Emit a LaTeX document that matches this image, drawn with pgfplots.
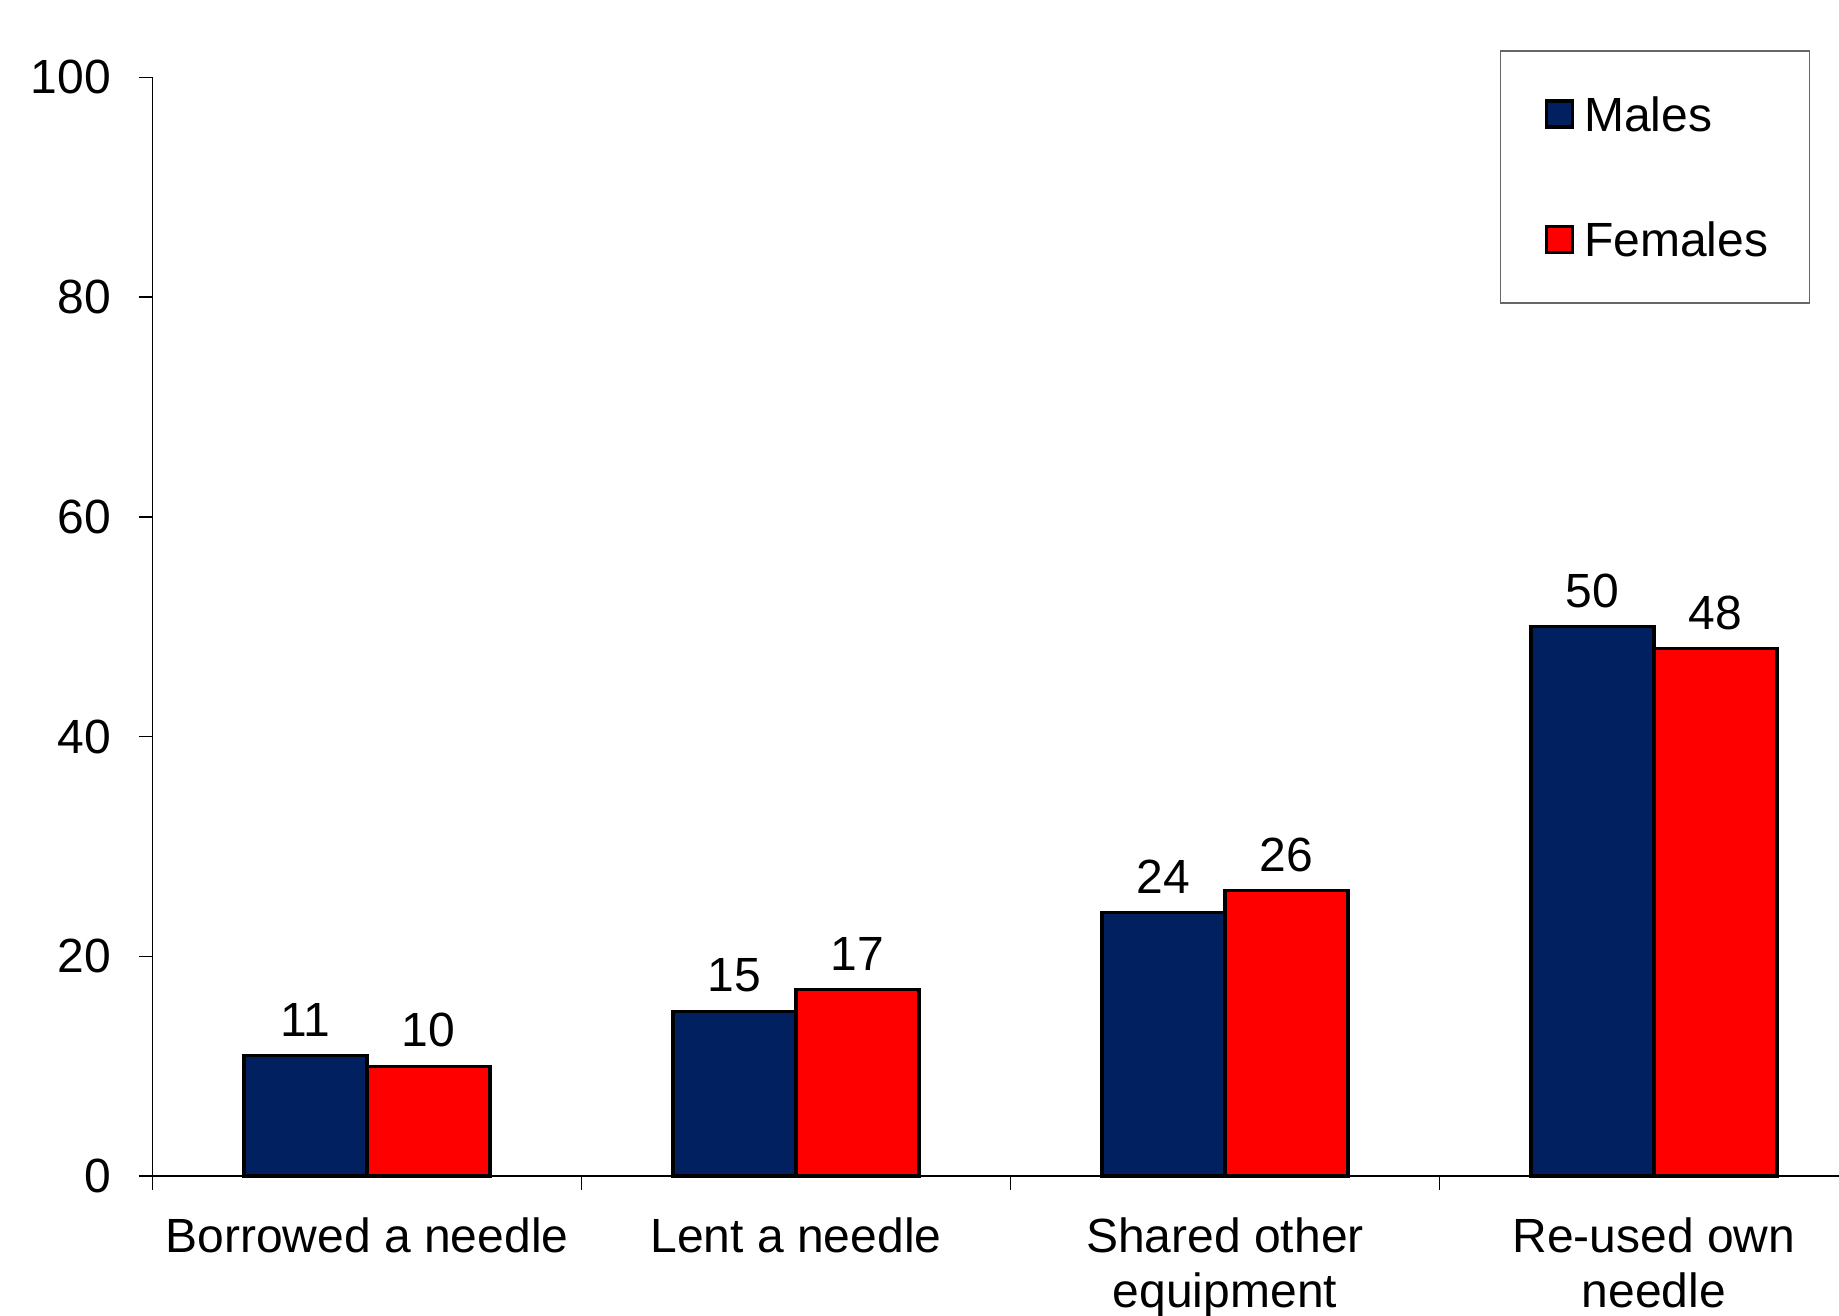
\documentclass[border=0pt]{standalone}
\usepackage{fontspec}
\setmainfont{Liberation Sans}
\usepackage{pgfplots}
\pgfplotsset{compat=1.18}
\definecolor{navy}{RGB}{0,32,96}
\definecolor{myred}{RGB}{255,0,0}
\begin{document}
\begin{tikzpicture}
\begin{axis}[
  scale only axis,
  width=421.625pt,
  height=274.65pt,
  xmin=-0.5, xmax=3.4313,
  ymin=0, ymax=100,
  axis x line=bottom, axis y line=left,
  axis line style={-, line width=0.4pt, black},
  ybar, bar width=30.75pt,
  ytick={0,20,40,60,80,100},
  xtick={0,1,2,3},
  xticklabels={Borrowed a needle, Lent a needle, {Shared other\\equipment}, {Re-used own\\needle}},
  minor xtick={-0.5,0.5,1.5,2.5},
  major x tick style={draw=none},
  tick align=outside,
  major tick length=3.5pt, minor tick length=3.5pt,
  tick style={black, line width=0.4pt},
  ticklabel style={font=\fontsize{12}{13.75}\selectfont},
  xticklabel style={align=center, yshift=-3.35pt},
  yticklabel style={xshift=-3.4pt},
  /pgf/number format/assume math mode=true,
  clip=false,
  legend cell align=left,
  legend style={at={(0.9830,1.0249)}, anchor=north east, draw=black!60, line width=0.4pt, fill=white,
    inner xsep=10.3pt, inner ysep=11.5pt, row sep=22.8pt, column sep=2.5pt,
    nodes={inner sep=0pt, text height=8.6pt, text depth=0pt, font=\fontsize{12}{14}\selectfont}},
  nodes near coords,
  every node near coord/.append style={font=\fontsize{12}{14}\selectfont, black, yshift=1pt},
]
\addplot[fill=navy, draw=black, line width=0.8pt, bar shift=-15.375pt,
  legend image code/.code={\path (0pt,0pt); \draw[fill=navy, draw=black, line width=0.8pt] (0.9pt,-3.25pt) rectangle (7.4pt,3.25pt);}]
  coordinates {(0,11) (1,15) (2,24) (3,50)};
\addplot[fill=myred, draw=black, line width=0.8pt, bar shift=15.375pt,
  legend image code/.code={\path (0pt,0pt); \draw[fill=myred, draw=black, line width=0.8pt] (0.9pt,-3.25pt) rectangle (7.4pt,3.25pt);}]
  coordinates {(0,10) (1,17) (2,26) (3,48)};
\legend{Males, Females}
\coordinate (bl) at (axis cs:-0.8555,-12.65);
\coordinate (tr) at (axis cs:3.4313,107.05);
\end{axis}
\pgfresetboundingbox
\useasboundingbox (bl) rectangle (tr);
\end{tikzpicture}
\end{document}
